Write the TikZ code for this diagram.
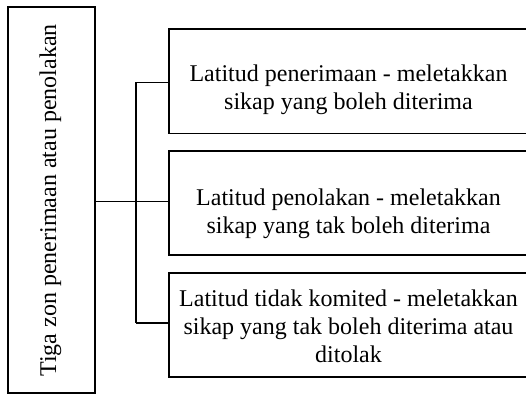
\documentclass[tikz,border=0pt]{standalone}
\usepackage{fontspec}
\setmainfont{Liberation Serif}
\begin{document}
\begin{tikzpicture}[x=1pt,y=1pt,
  box/.style={draw=black,line width=1.3pt,rectangle,inner sep=0pt},
  lbl/.style={inner sep=0pt,align=center,font=\fontsize{24}{28}\selectfont,anchor=base},
  conn/.style={draw=black,line width=1.2pt}]
\useasboundingbox (0,0) rectangle (526,-395);
% left box
\node[box,minimum width=87pt,minimum height=386pt] (main) at (51.5,-200) {};
\node[lbl,rotate=90] (maintext) at (56,-200.5) {Tiga zon penerimaan atau penolakan};
% right boxes
\node[box,minimum width=359pt,minimum height=104.5pt] (b1) at (348.5,-81.25) {};
\node[box,minimum width=359pt,minimum height=104pt] (b2) at (348.5,-203) {};
\node[box,minimum width=359pt,minimum height=104pt] (b3) at (348.5,-325) {};
\node[lbl] (t1) at (348.5,-109.3) {Latitud penerimaan - meletakkan\\sikap yang boleh diterima};
\node[lbl] (t2) at (348.5,-233.3) {Latitud penolakan - meletakkan\\sikap yang tak boleh diterima};
\node[lbl] (t3) at (348.5,-362.3) {Latitud tidak komited - meletakkan\\sikap yang tak boleh diterima atau\\ditolak};
% connectors
\coordinate (j) at (136,-201.5);
\draw[conn] (main.east |- j) -- (b2.west |- j);
\draw[conn] (136,-82.5) coordinate (jt) -- (136,-323) coordinate (jb);
\draw[conn] (jt) -- (b1.west |- jt);
\draw[conn] (jb) -- (b3.west |- jb);
\end{tikzpicture}
\end{document}
